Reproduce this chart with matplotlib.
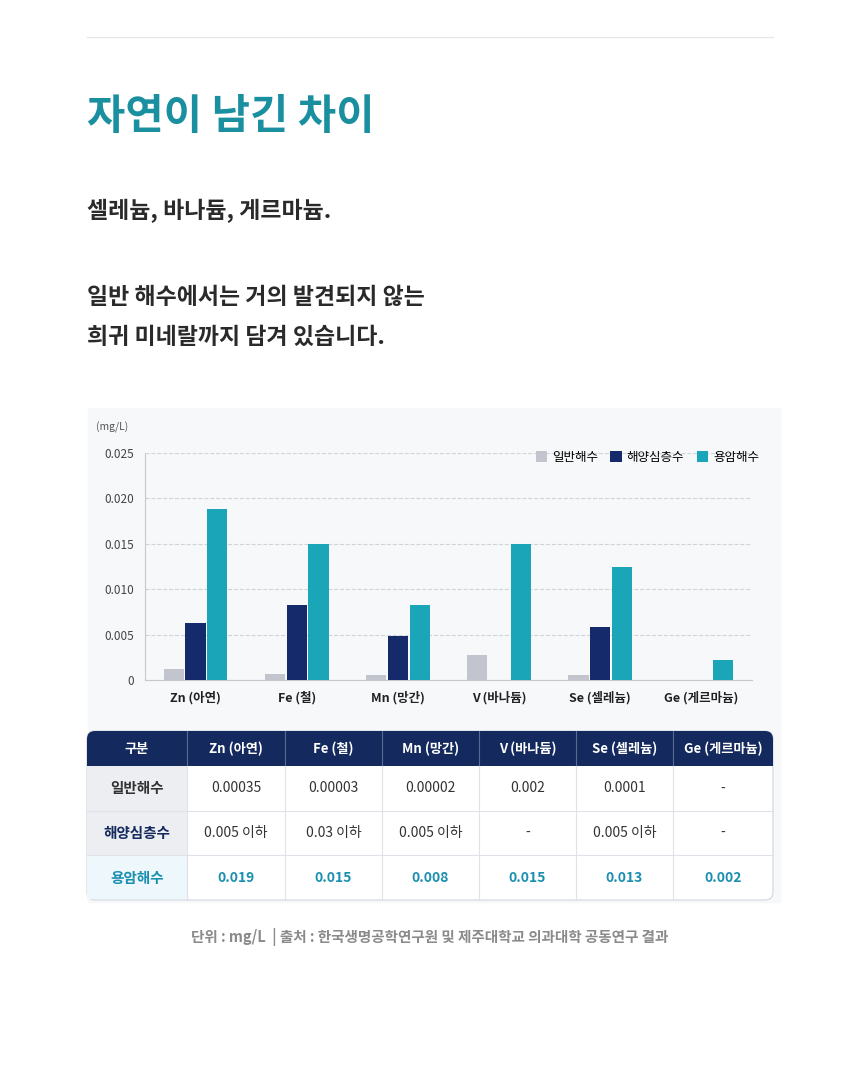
import matplotlib
matplotlib.use("Agg")
import matplotlib.pyplot as plt
from matplotlib.patches import Rectangle, FancyBboxPatch
import numpy as np

plt.rcParams['font.family'] = ['Noto Sans CJK KR', 'DejaVu Sans']

# ---------------------------------------------------------------- data
categories = ['Zn (아연)', 'Fe (철)', 'Mn (망간)', 'V (바나듐)', 'Se (셀레늄)', 'Ge (게르마늄)']
series_names = ['일반해수', '해양심층수', '용암해수']
normal_sea = [0.0012, 0.0007, 0.0006, 0.0027, 0.0006, 0.0]
deep_sea = [0.0063, 0.0083, 0.0049, 0.0, 0.0058, 0.0]
lava_sea = [0.0188, 0.0150, 0.0083, 0.0150, 0.0125, 0.0022]
y_ticks = [0, 0.005, 0.010, 0.015, 0.020, 0.025]
y_tick_labels = ['0', '0.005', '0.010', '0.015', '0.020', '0.025']

table_header = ['구분'] + categories
table_rows = [
    ['일반해수', '0.00035', '0.00003', '0.00002', '0.002', '0.0001', '-'],
    ['해양심층수', '0.005 이하', '0.03 이하', '0.005 이하', '-', '0.005 이하', '-'],
    ['용암해수', '0.019', '0.015', '0.008', '0.015', '0.013', '0.002'],
]

colors = ['#c3c5ce', '#142a6b', '#1aa6b8']
teal = '#1a8fa0'
navy = '#142a5e'

W, H = 860, 1070
fig = plt.figure(figsize=(W / 100, H / 100), dpi=100)
fig.patch.set_facecolor('white')

# overlay axes in pixel coords
ov = fig.add_axes([0, 0, 1, 1])
ov.set_xlim(0, W)
ov.set_ylim(H, 0)
ov.axis('off')

ov.plot([87, 773], [37, 37], color='#e6e6e6', lw=1)
ov.text(87, 117, '자연이 남긴 차이', fontsize=30, fontweight='bold', color=teal, va='center')
for ty, line in [(211, '셀레늄, 바나듐, 게르마늄.'),
                 (297, '일반 해수에서는 거의 발견되지 않는'),
                 (337, '희귀 미네랄까지 담겨 있습니다.')]:
    ov.text(87, ty, line, fontsize=16.5, color='#2a2a2a', va='center', fontweight='bold')

# chart background
ov.add_patch(Rectangle((88, 408), 692, 494, color='#f7f8fa', zorder=0))

# ---------------------------------------------------------------- bar chart
ax = fig.add_axes([145 / W, 1 - 680 / H, (752 - 145) / W, (680 - 453) / H])
ax.set_facecolor('none')
x = np.arange(len(categories))
bw = 0.2
for k, vals in enumerate([normal_sea, deep_sea, lava_sea]):
    ax.bar(x + (k - 1) * 0.215, vals, width=bw, color=colors[k], label=series_names[k], zorder=3)
ax.set_xlim(-0.5, len(categories) - 0.5)
ax.set_ylim(0, 0.025)
ax.set_yticks(y_ticks)
ax.set_yticklabels(y_tick_labels, fontsize=8.5, color='#444444')
ax.set_xticks(x)
ax.set_xticklabels(categories, fontsize=9, color='#222222', fontweight='bold')
ax.tick_params(axis='both', length=0, pad=8)
ax.grid(axis='y', ls='--', color='#cfd3da', lw=0.8, zorder=0)
for s in ['top', 'right']:
    ax.spines[s].set_visible(False)
ax.spines['left'].set_color('#c8c8c8')
ax.spines['bottom'].set_color('#c8c8c8')
ax.text(-0.08, 1.1, '(mg/L)', transform=ax.transAxes, fontsize=7.5, color='#555555', ha='left')
ax.legend(loc='upper right', bbox_to_anchor=(1.03, 1.06), ncol=3, frameon=False, fontsize=9,
          handlelength=0.9, handleheight=0.9, handletextpad=0.4, columnspacing=1.0)

# ---------------------------------------------------------------- table
col_edges = [87, 187, 285, 382, 479, 576, 673, 773]
row_edges = [731, 766, 811, 855, 900]
ov.add_patch(FancyBboxPatch((87, 731), 686, 169, boxstyle='round,pad=0,rounding_size=8',
                            facecolor='white', edgecolor='#d8dce4', lw=1, zorder=1))
ov.add_patch(FancyBboxPatch((87, 731), 686, 35, boxstyle='round,pad=0,rounding_size=8',
                            facecolor=navy, edgecolor='none', zorder=2))
ov.add_patch(Rectangle((87, 750), 686, 16, facecolor=navy, edgecolor='none', zorder=2))
ov.add_patch(Rectangle((87, 766), 100, 89, facecolor='#eceef2', edgecolor='none', zorder=2))
ov.add_patch(Rectangle((87, 855), 100, 44, facecolor='#eef7fb', edgecolor='none', zorder=2))
for cx in col_edges[1:-1]:
    ov.plot([cx, cx], [731, 766], color='#5a6a90', lw=0.8, zorder=3)
    ov.plot([cx, cx], [766, 900], color='#dfe2e8', lw=0.8, zorder=3)
for ry in row_edges[2:-1]:
    ov.plot([87, 773], [ry, ry], color='#dfe2e8', lw=0.8, zorder=3)

for j, h in enumerate(table_header):
    cx = (col_edges[j] + col_edges[j + 1]) / 2
    ov.text(cx, 748.5, h, ha='center', va='center', color='white', fontsize=9.5,
            fontweight='bold', zorder=4)
for i, row in enumerate(table_rows):
    cy = (row_edges[i + 1] + row_edges[i + 2]) / 2
    for j, val in enumerate(row):
        cx = (col_edges[j] + col_edges[j + 1]) / 2
        if i == 2:
            col, fw = ('#1a8fb0', 'bold')
        elif j == 0:
            col, fw = ('#333333' if i == 0 else navy, 'bold')
        else:
            col, fw = ('#333333', 'normal')
        ov.text(cx, cy, val, ha='center', va='center', color=col, fontsize=10.5 if j == 0 else 10,
                fontweight=fw, zorder=4)

ov.text(430, 937, '단위 : mg/L  | 출처 : 한국생명공학연구원 및 제주대학교 의과대학 공동연구 결과',
        ha='center', va='center', fontsize=10.5, color='#8a8a8a', fontweight='bold')

fig.savefig('out.png', dpi=100, facecolor='white')
